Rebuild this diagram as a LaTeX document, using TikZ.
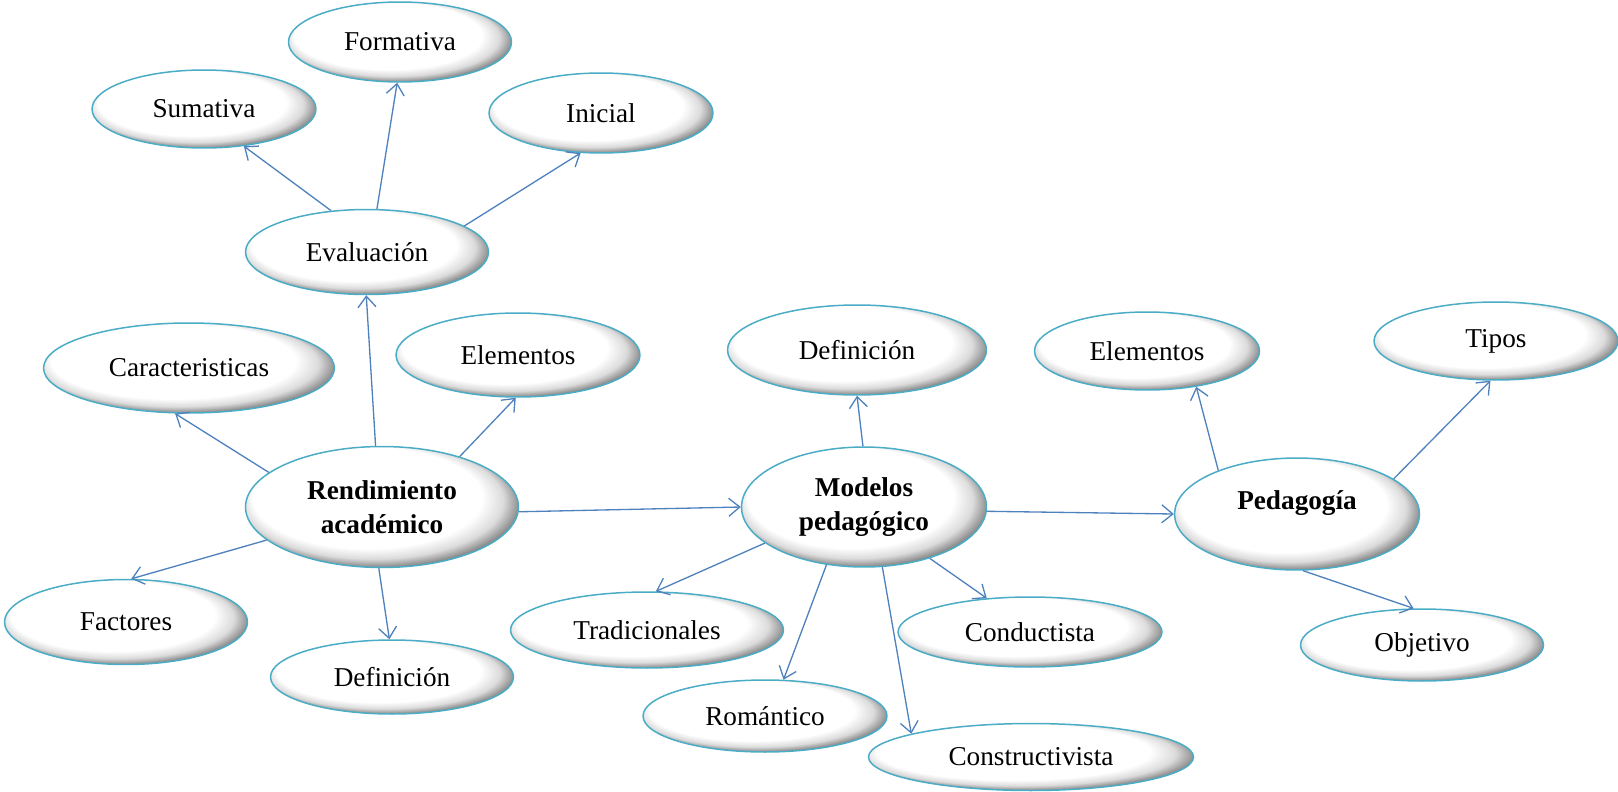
\documentclass[tikz,border=0pt]{standalone}
\usepackage{fontspec}
\setmainfont{Liberation Serif}
\usepackage{tikz}
\usetikzlibrary{positioning, arrows.meta, shapes}
\usepackage{xcolor}
\definecolor{BordeAqua}{RGB}{75, 172, 198}
\definecolor{FlechaAzul}{RGB}{79, 129, 189}
\pgfdeclareradialshading{globo}{\pgfpoint{-9bp}{13bp}}{color(0bp)=(white); color(21bp)=(white); color(24bp)=(black!14); color(26.5bp)=(black!48); color(30bp)=(black!62)}

\begin{document}
\begin{tikzpicture}[x=0.02cm, y=-0.02cm]
        \tikzstyle{globo} = [ellipse, draw=BordeAqua, line width=0.85pt, shade, shading=globo,
          inner sep=1pt, align=center, font=\fontsize{15.5}{19}\selectfont]
        \tikzstyle{flecha} = [draw=FlechaAzul, line width=0.75pt,
          -{Straight Barb[length=0.22cm, width=0.36cm]}]

        \useasboundingbox (0,0) rectangle (1618,791);

        % evaluacion y sus tipos
        \node[globo, minimum width=4.46cm, minimum height=1.6cm] (form) at (400,42) {Formativa};
        \node[globo, minimum width=4.48cm, minimum height=1.56cm] (suma) at (204,109) {Sumativa};
        \node[globo, minimum width=4.48cm, minimum height=1.6cm] (inic) at (601,113) {Inicial};
        \node[globo, minimum width=4.86cm, minimum height=1.7cm] (eval) at (367,252) {Evaluación};

        % rendimiento academico
        \node[globo, minimum width=5.82cm, minimum height=1.8cm] (cara) at (189,368) {Caracteristicas};
        \node[globo, minimum width=4.88cm, minimum height=1.68cm] (elemA) at (518,355) {Elementos};
        \node[globo, minimum width=5.46cm, minimum height=2.42cm, font=\fontsize{15.5}{19}\selectfont\bfseries] (rend) at (382,507) {Rendimiento\\académico};
        \node[globo, minimum width=4.86cm, minimum height=1.7cm] (fact) at (126,622) {Factores};
        \node[globo, minimum width=4.86cm, minimum height=1.48cm] (defA) at (392,677) {Definición};

        % modelos pedagogicos
        \node[globo, minimum width=5.18cm, minimum height=1.8cm] (defB) at (857,350) {Definición};
        \node[globo, minimum width=4.9cm, minimum height=2.4cm, font=\fontsize{15.5}{19}\selectfont\bfseries] (mod) at (864,507) {Modelos\\pedagógico};
        \node[globo, minimum width=5.46cm, minimum height=1.52cm] (trad) at (647,630) {Tradicionales};
        \node[globo, minimum width=4.88cm, minimum height=1.44cm] (roma) at (765,716) {Romántico};
        \node[globo, minimum width=5.28cm, minimum height=1.4cm] (cond) at (1030,632) {Conductista};
        \node[globo, minimum width=6.5cm, minimum height=1.34cm] (cons) at (1031,757) {Constructivista};

        % pedagogia
        \node[globo, minimum width=4.9cm, minimum height=2.24cm, text depth=0.55cm, font=\fontsize{15.5}{19}\selectfont\bfseries] (peda) at (1297,514) {Pedagogía};
        \node[globo, minimum width=4.5cm, minimum height=1.56cm] (elemB) at (1147,351) {Elementos};
        \node[globo, minimum width=4.88cm, minimum height=1.56cm] (tipo) at (1496,341) {Tipos};
        \node[globo, minimum width=4.86cm, minimum height=1.44cm] (obje) at (1422,645) {Objetivo};

        \foreach \a/\b in {eval.131/suma.317, eval.77/form.266, eval.15/inic.243,
          rend.96/eval.269, rend.163/cara.253, rend.33/elemA.267, rend.196/fact.83,
          rend.267/defA.94, rend.358/mod.180,
          mod.91/defB.270, mod.358/peda.180, mod.200/trad.77, mod.237/roma.63,
          mod.287/cons.169, mod.322/cond.142,
          peda.151/elemB.324, peda.20/tipo.262, peda.276/obje.103}
          \draw[flecha] (\a) -- (\b);
      \end{tikzpicture}
\end{document}
